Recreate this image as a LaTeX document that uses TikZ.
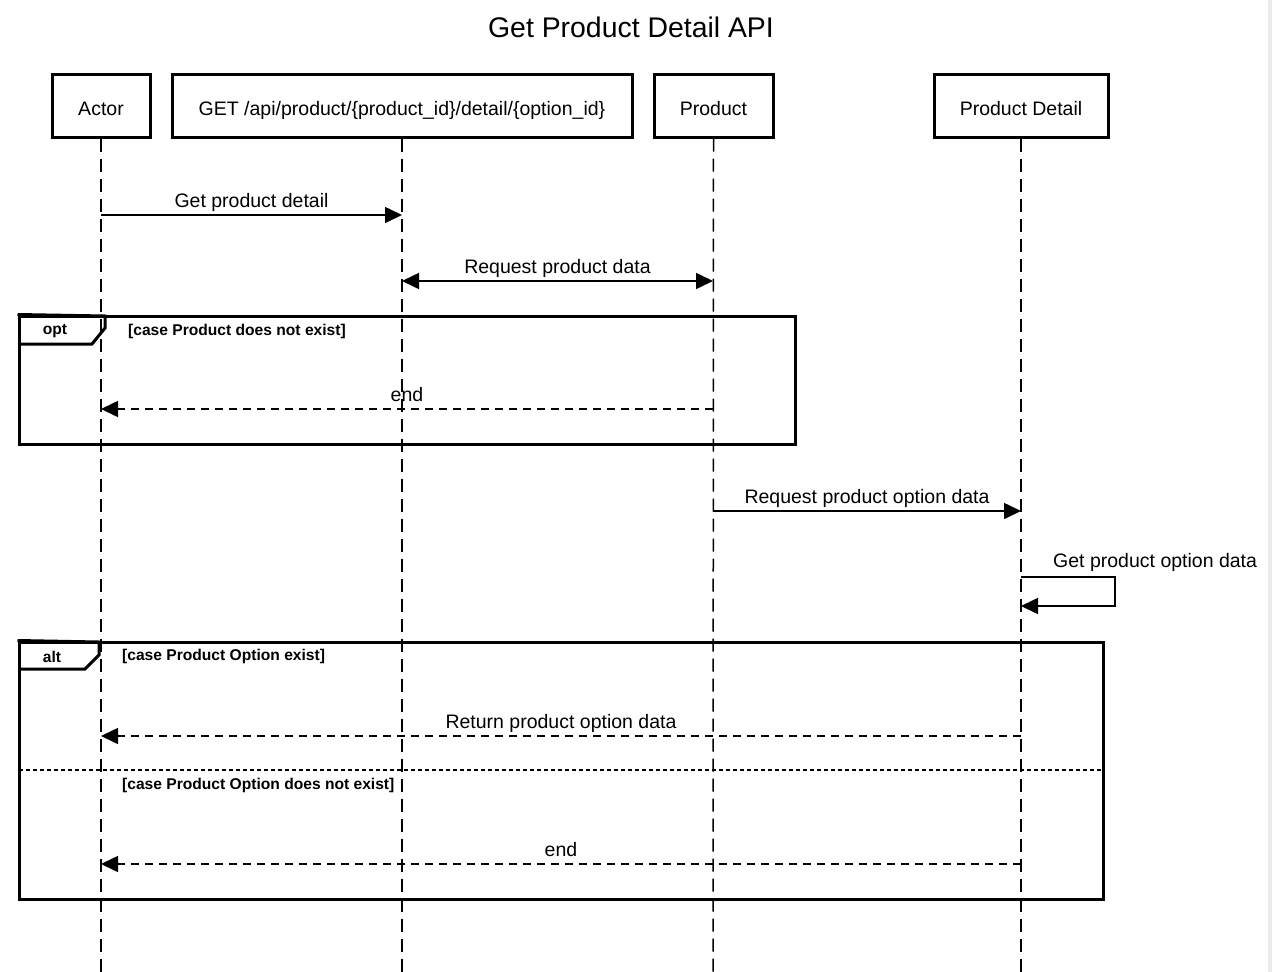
\documentclass[tikz,border=0pt]{standalone}
\usepackage{fontspec}
\setmainfont{Liberation Sans}
\usetikzlibrary{arrows.meta}
\begin{document}
\begin{tikzpicture}[x=1pt,y=-1pt,
  part/.style={draw, line width=3pt, minimum height=63pt, inner sep=0pt, text height=19pt, text depth=0pt, font=\fontsize{19.5}{22}\selectfont},
  life/.style={line width=1.5pt, dash pattern=on 13pt off 7pt},
  msg/.style={line width=1.6pt, -{Triangle[length=17pt,width=16pt]}},
  ret/.style={msg, dash pattern=on 8pt off 6pt},
  lbl/.style={font=\fontsize{19.5}{22}\selectfont, above, inner sep=3pt, text height=14pt, text depth=4.2pt},
  frame/.style={draw, line width=3pt},
  ftxt/.style={font=\bfseries\fontsize{15.6}{18}\selectfont, inner sep=0pt},
  sep/.style={line width=2.6pt, dash pattern=on 4pt off 3pt}
]
\useasboundingbox (0,0) rectangle (1272,972);
\fill[white] (0,0) rectangle (1272,972);
\fill[black!8] (1268,0) rectangle (1272,972);

\node[font=\fontsize{28.4}{32}\selectfont] (title) at (631,27) {Get Product Detail API};

% participants
\node[part, minimum width=98pt] (actor) at (101,105.5) {Actor};
\node[part, minimum width=460pt] (api) at (402,105.5) {GET /api/product/\{product\_id\}/detail/\{option\_id\}};
\node[part, minimum width=119pt] (prod) at (713.5,105.5) {Product};
\node[part, minimum width=174pt] (pdet) at (1021,105.5) {Product Detail};

% lifeline ends
\coordinate (actorE) at (101,972);
\coordinate (apiE) at (402,972);
\coordinate (prodE) at (713,972);
\coordinate (pdetE) at (1021,972);
\draw[life] (actor.south) -- (actorE);
\draw[life] (api.south) -- (apiE);
\draw[life] (prod.south) -- (prodE);
\draw[life] (pdet.south) -- (pdetE);

% message points
\coordinate (m1a) at (101,215);  \coordinate (m1b) at (402,215);
\coordinate (m2a) at (402,281);  \coordinate (m2b) at (713,281);
\coordinate (m3a) at (713,409);  \coordinate (m3b) at (101,409);
\coordinate (m4a) at (713,511);  \coordinate (m4b) at (1021,511);
\coordinate (s1) at (1021,577);  \coordinate (s2) at (1115,577);
\coordinate (s3) at (1115,606);  \coordinate (s4) at (1021,606);
\coordinate (m5a) at (1021,736); \coordinate (m5b) at (101,736);
\coordinate (m6a) at (1021,864); \coordinate (m6b) at (101,864);

\draw[msg] (m1a) -- node[lbl] {Get product detail} (m1b);
\draw[msg, {Triangle[length=17pt,width=16pt]}-{Triangle[length=17pt,width=16pt]}] (m2a) -- node[lbl] {Request product data} (m2b);

% opt frame
\node[frame, minimum width=776pt, minimum height=128pt, inner sep=0pt] (opt) at (407,380) {};
\draw[line width=3pt] (opt.north west) -- (105,316) -- (105,328) -- (92,344) -- (19,344);
\node[ftxt] (optl) at (55,331.5) {opt};
\node[ftxt, anchor=west] (optc) at (128,331.5) {[case Product does not exist]};
\draw[ret] (m3a) -- node[lbl] {end} (m3b);

\draw[msg] (m4a) -- node[lbl] {Request product option data} (m4b);

% self message
\draw[msg] (s1) -- (s2) -- (s3) -- (s4);
\node[font=\fontsize{19.5}{22}\selectfont, anchor=west, inner sep=0pt] (slbl) at (1053,562.5) {Get product option data};

% alt frame
\node[frame, minimum width=1084pt, minimum height=257pt, inner sep=0pt] (alt) at (561,770.5) {};
\draw[line width=3pt] (alt.north west) -- (99,642) -- (99,655) -- (85,669) -- (19,669);
\node[ftxt] (altl) at (52,656.5) {alt};
\node[ftxt, anchor=west] (altc1) at (122,656.5) {[case Product Option exist]};
\draw[ret] (m5a) -- node[lbl] {Return product option data} (m5b);
\coordinate (sepL) at (19,770);
\coordinate (sepR) at (1103,770);
\draw[sep] (sepL) -- (sepR);
\node[ftxt, anchor=west] (altc2) at (122,785.5) {[case Product Option does not exist]};
\draw[ret] (m6a) -- node[lbl] {end} (m6b);
\end{tikzpicture}
\end{document}
